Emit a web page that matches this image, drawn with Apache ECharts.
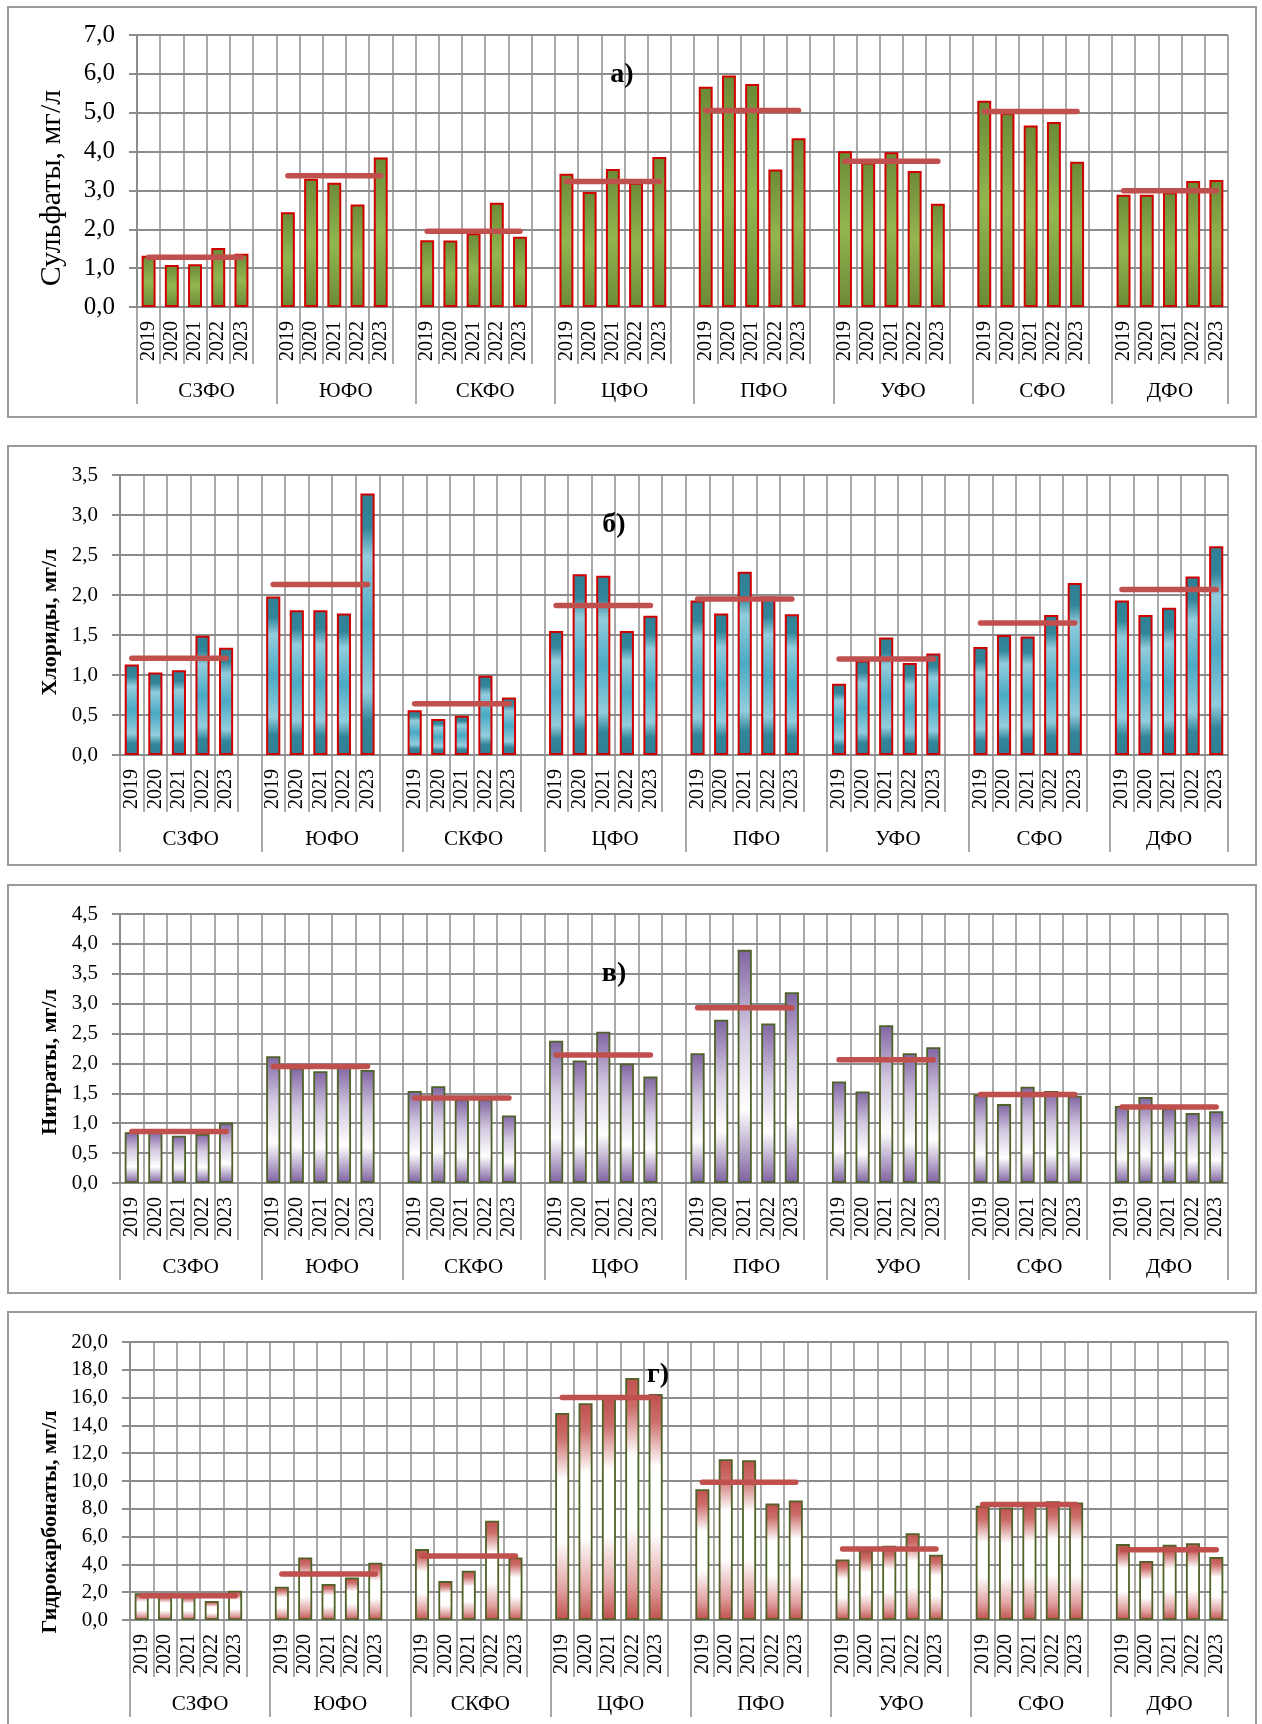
<!DOCTYPE html>
<html>
<head>
<meta charset="utf-8">
<script src="https://cdn.jsdelivr.net/npm/echarts@6/dist/echarts.min.js"></script>
<style>
  html, body { margin: 0; padding: 0; background: #ffffff; }
  #chart { width: 1262px; height: 1724px; }
</style>
</head>
<body>
<div id="chart"></div>
<script>
// ---------- DATA ----------
const regions = ['СЗФО', 'ЮФО', 'СКФО', 'ЦФО', 'ПФО', 'УФО', 'СФО', 'ДФО'];
const years = ['2019', '2020', '2021', '2022', '2023'];

// Сульфаты, мг/л (a)
const sulfates = [
  [1.32, 1.08, 1.10, 1.52, 1.37],
  [2.44, 3.30, 3.20, 2.64, 3.85],
  [1.72, 1.71, 1.90, 2.68, 1.81],
  [3.43, 2.96, 3.55, 3.20, 3.86],
  [5.67, 5.96, 5.74, 3.54, 4.34],
  [4.01, 3.72, 3.98, 3.50, 2.66],
  [5.31, 5.00, 4.67, 4.76, 3.74],
  [2.89, 2.89, 2.95, 3.24, 3.27]
];
const sulfatesMean = [1.28, 3.38, 1.95, 3.23, 5.06, 3.75, 5.03, 2.99];

// Хлориды, мг/л (б)
const chlorides = [
  [1.13, 1.03, 1.06, 1.49, 1.34],
  [1.98, 1.81, 1.81, 1.77, 3.27],
  [0.56, 0.45, 0.49, 0.99, 0.72],
  [1.55, 2.26, 2.24, 1.55, 1.74],
  [1.93, 1.77, 2.29, 1.98, 1.76],
  [0.89, 1.18, 1.47, 1.15, 1.27],
  [1.35, 1.50, 1.48, 1.75, 2.15],
  [1.93, 1.75, 1.84, 2.23, 2.61]
];
const chloridesMean = [1.21, 2.13, 0.64, 1.87, 1.95, 1.20, 1.65, 2.07];

// Нитраты, мг/л (в)
const nitrates = [
  [0.85, 0.85, 0.79, 0.82, 1.01],
  [2.12, 1.93, 1.87, 1.95, 1.89],
  [1.54, 1.62, 1.40, 1.40, 1.13],
  [2.38, 2.05, 2.53, 2.00, 1.78],
  [2.17, 2.73, 3.90, 2.67, 3.19],
  [1.70, 1.53, 2.64, 2.17, 2.27],
  [1.48, 1.32, 1.61, 1.54, 1.46],
  [1.29, 1.44, 1.25, 1.17, 1.20]
];
const nitratesMean = [0.86, 1.95, 1.42, 2.14, 2.93, 2.06, 1.48, 1.27];

// Гидрокарбонаты, мг/л (г)
const bicarbonates = [
  [1.92, 1.80, 1.75, 1.37, 2.10],
  [2.40, 4.50, 2.59, 3.05, 4.12],
  [5.10, 2.80, 3.54, 7.14, 4.50],
  [14.90, 15.60, 15.95, 17.41, 16.26],
  [9.41, 11.57, 11.50, 8.38, 8.60],
  [4.36, 5.00, 5.34, 6.25, 4.69],
  [8.22, 8.10, 8.30, 8.55, 8.46],
  [5.46, 4.24, 5.41, 5.53, 4.53]
];
const bicarbonatesMean = [1.75, 3.31, 4.60, 16.00, 9.91, 5.10, 8.31, 5.05];

// y-axis tick ranges
const yTicksA = { max: 7, step: 1 };
const yTicksB = { max: 3.5, step: 0.5 };
const yTicksC = { max: 4.5, step: 0.5 };
const yTicksD = { max: 20, step: 2 };

// ---------- BUILD ----------
const FONT = "'Liberation Serif', 'Times New Roman', serif";
const GRID_COLOR = '#8c8c8c';

// flat category list: 5 years per region + empty gap slot between regions
const categories = [];
const groupStart = [];
const groupSize = [];
regions.forEach((r, i) => {
  groupStart.push(categories.length);
  years.forEach(y => categories.push(y));
  if (i < regions.length - 1) categories.push('');
  groupSize.push(categories.length - groupStart[i]);
});
const nCat = categories.length;
const groupBounds = groupStart.concat([nCat]);
const groupCenters = groupStart.map((s, i) => s + groupSize[i] / 2);
const centerName = {};
groupCenters.forEach((c, i) => { centerName[c.toFixed(2)] = regions[i]; });

function flatBars(values) {
  const out = [];
  values.forEach((arr, i) => {
    arr.forEach(v => out.push(v));
    if (i < values.length - 1) out.push(null);
  });
  return out;
}
function flatMean(means) {
  const out = [];
  means.forEach((m, i) => {
    years.forEach(() => out.push(m));
    if (i < means.length - 1) out.push(null);
  });
  return out;
}
const fmt = v => v.toFixed(1).replace('.', ',');

const G = echarts.graphic.LinearGradient;
const panels = [
  {
    grid: { left: 137, top: 35, width: 1091, height: 272 },
    ticks: yTicksA, values: sulfates, means: sulfatesMean, tickFont: 25,
    fill: new G(0, 0, 0, 1, [
      { offset: 0, color: '#6c8a36' }, { offset: 0.5, color: '#93b650' }, { offset: 1, color: '#6c8a36' }
    ]),
    border: '#d10000', borderWidth: 2,
    title: 'Сульфаты, мг/л', titleBold: false, titleSize: 30, titleX: 52, titleY: 188,
    label: 'а)', labelX: 622, labelY: 75
  },
  {
    grid: { left: 120, top: 475, width: 1108, height: 280 },
    ticks: yTicksB, values: chlorides, means: chloridesMean, tickFont: 21,
    fill: new G(0, 0, 0, 1, [
      { offset: 0, color: '#2f7f93' }, { offset: 0.13, color: '#32859a' },
      { offset: 0.24, color: '#93cddd' }, { offset: 0.5, color: '#4aaac4' },
      { offset: 0.76, color: '#93cddd' }, { offset: 0.87, color: '#32859a' }, { offset: 1, color: '#2f7f93' }
    ]),
    border: '#d10000', borderWidth: 2,
    title: 'Хлориды, мг/л', titleBold: true, titleSize: 22, titleX: 50, titleY: 622,
    label: 'б)', labelX: 614, labelY: 525
  },
  {
    grid: { left: 120, top: 914, width: 1108, height: 269 },
    ticks: yTicksC, values: nitrates, means: nitratesMean, tickFont: 21,
    fill: new G(0, 0, 0, 1, [
      { offset: 0, color: '#8064a2' }, { offset: 0.35, color: '#d3c9e1' },
      { offset: 0.68, color: '#ffffff' }, { offset: 1, color: '#7d60a0' }
    ]),
    border: '#4f6228', borderWidth: 1.8,
    title: 'Нитраты, мг/л', titleBold: true, titleSize: 22, titleX: 50, titleY: 1062,
    label: 'в)', labelX: 614, labelY: 974
  },
  {
    grid: { left: 130, top: 1342, width: 1098, height: 278 },
    ticks: yTicksD, values: bicarbonates, means: bicarbonatesMean, tickFont: 21,
    fill: new G(0, 0, 0, 1, [
      { offset: 0, color: '#c0504d' }, { offset: 0.12, color: '#cc6e6b' },
      { offset: 0.32, color: '#ffffff' }, { offset: 0.62, color: '#ffffff' },
      { offset: 0.85, color: '#e1a3a2' }, { offset: 1, color: '#c0504d' }
    ]),
    border: '#4f6228', borderWidth: 1.8,
    title: 'Гидрокарбонаты, мг/л', titleBold: true, titleSize: 22, titleX: 50, titleY: 1522,
    label: 'г)', labelX: 658, labelY: 1375
  }
];

const option = {
  animation: false,
  backgroundColor: '#ffffff',
  grid: [], xAxis: [], yAxis: [], series: [], graphic: []
};

// frames
const frames = [
  { x: 8, y: 7, h: 410 }, { x: 8, y: 446, h: 419 }, { x: 8, y: 885, h: 408 }, { x: 8, y: 1312, h: 430 }
];
frames.forEach(f => {
  option.graphic.push({
    type: 'rect', silent: true, z: 0,
    shape: { x: f.x, y: f.y, width: 1248, height: f.h },
    style: { fill: 'none', stroke: '#9a9a9a', lineWidth: 2 }
  });
});

panels.forEach((p, i) => {
  option.grid.push(Object.assign({ containLabel: false }, p.grid));
  // year axis
  option.xAxis.push({
    type: 'category', gridIndex: i, data: categories, position: 'bottom',
    axisLine: { show: true, lineStyle: { color: GRID_COLOR, width: 2 } },
    axisTick: { show: true, interval: 0, length: 57, lineStyle: { color: GRID_COLOR, width: 1.5 } },
    axisLabel: { interval: 0, rotate: 90, margin: 14, fontFamily: FONT, fontSize: 20, color: '#000' },
    splitLine: { show: true, interval: 0, lineStyle: { color: GRID_COLOR, width: 1.5 } }
  });
  // region axis (group labels + long separators)
  option.xAxis.push({
    type: 'value', gridIndex: i, min: 0, max: nCat, position: 'bottom',
    axisLine: { show: false },
    axisTick: { show: true, customValues: groupBounds, length: 97, lineStyle: { color: GRID_COLOR, width: 1.5 } },
    axisLabel: {
      customValues: groupCenters, margin: 74, fontFamily: FONT, fontSize: 21, color: '#000',
      formatter: v => centerName[Number(v).toFixed(2)] || ''
    },
    splitLine: { show: false }
  });
  option.yAxis.push({
    type: 'value', gridIndex: i, min: 0, max: p.ticks.max, interval: p.ticks.step,
    axisLine: { show: true, lineStyle: { color: GRID_COLOR, width: 2 } },
    axisTick: { show: true, length: 8, lineStyle: { color: GRID_COLOR, width: 2 } },
    axisLabel: { margin: 22, fontFamily: FONT, fontSize: p.tickFont, color: '#000', formatter: fmt },
    splitLine: { show: true, lineStyle: { color: GRID_COLOR, width: 2 } }
  });
  option.series.push({
    type: 'bar', xAxisIndex: i * 2, yAxisIndex: i, data: flatBars(p.values),
    barWidth: '60%', z: 2,
    itemStyle: { color: p.fill, borderColor: p.border, borderWidth: p.borderWidth }
  });
  option.series.push({
    type: 'line', xAxisIndex: i * 2, yAxisIndex: i, data: flatMean(p.means),
    symbol: 'none', connectNulls: false, z: 5,
    lineStyle: { color: '#c0504d', width: 5.5, cap: 'round' }
  });
  // axis title
  option.graphic.push({
    type: 'text', silent: true, z: 10,
    x: p.titleX, y: p.titleY, rotation: Math.PI / 2,
    style: {
      text: p.title, fontFamily: FONT, fontSize: p.titleSize,
      fontWeight: p.titleBold ? 'bold' : 'normal', fill: '#000',
      align: 'center', verticalAlign: 'middle'
    }
  });
  // panel label
  option.graphic.push({
    type: 'text', silent: true, z: 10,
    x: p.labelX, y: p.labelY,
    style: {
      text: p.label, fontFamily: FONT, fontSize: 28, fontWeight: 'bold', fill: '#000',
      align: 'center', verticalAlign: 'middle'
    }
  });
});

const chart = echarts.init(document.getElementById('chart'), null, { renderer: 'canvas' });
chart.setOption(option);
</script>
</body>
</html>
